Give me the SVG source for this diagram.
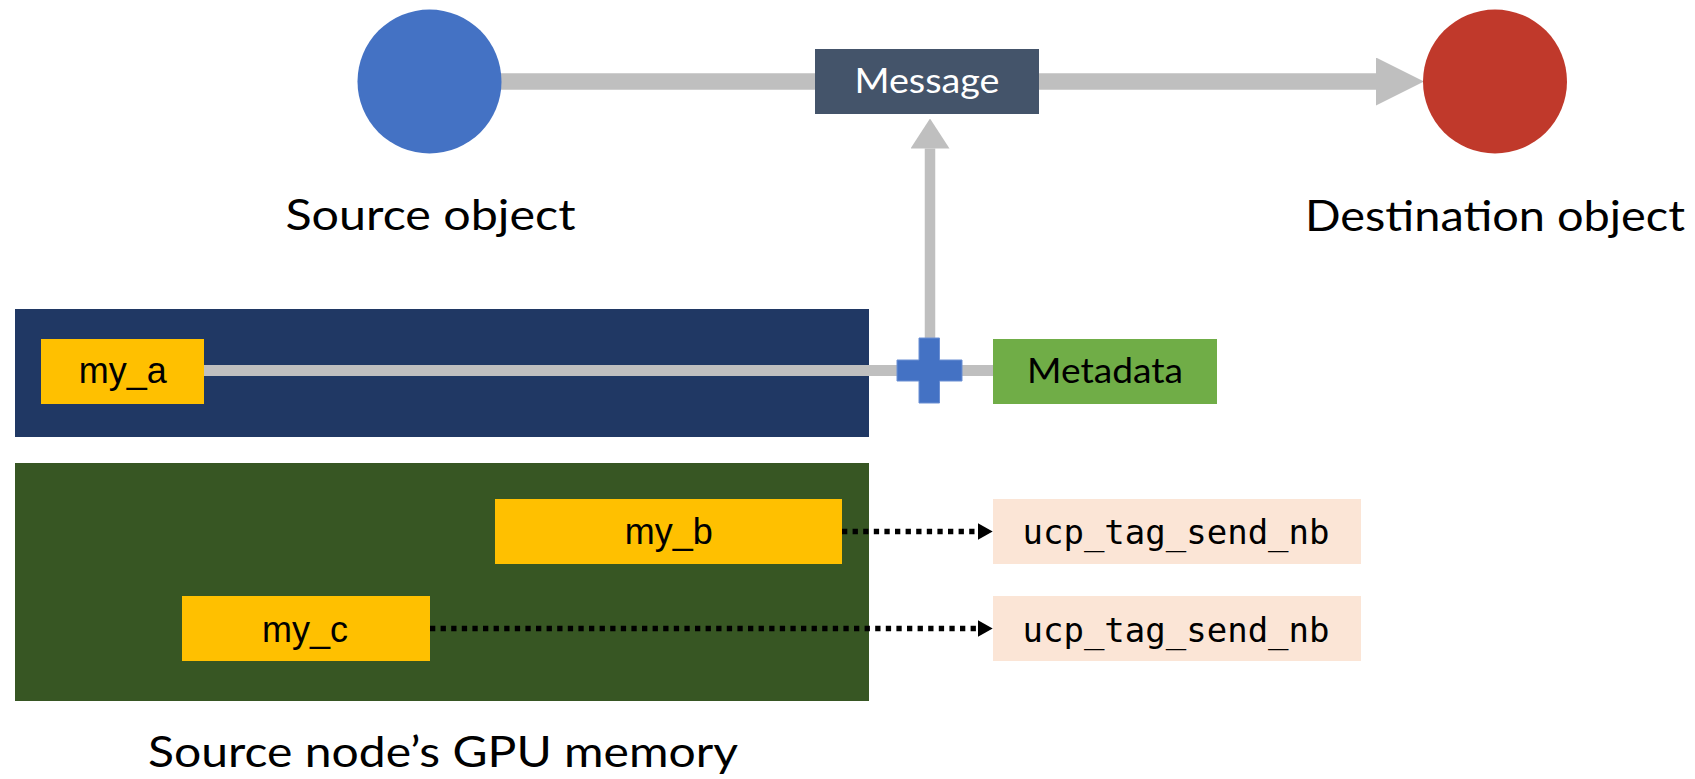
<svg xmlns="http://www.w3.org/2000/svg" width="1695" height="779" viewBox="0 0 1695 779">
  <style>
    .label { font-family: Lato, "Open Sans", "Liberation Sans", sans-serif; font-size: 43px; fill: #000; text-anchor: middle; }
    .boxtext { font-family: Lato, "Open Sans", "Liberation Sans", sans-serif; font-size: 35px; text-anchor: middle; }
    .var { font-family: "Liberation Sans", Arial, sans-serif; font-size: 36px; fill: #000; text-anchor: middle; }
    .mono { font-family: "DejaVu Sans Mono", "Liberation Mono", monospace; font-size: 34px; fill: #000; text-anchor: middle; }
    .var-box { fill: #FFC000; }
    .call-box { fill: #FBE5D6; }
    .flow { fill: none; stroke: #BFBFBF; }
    .dotted { fill: none; stroke: #000; stroke-width: 5.3; stroke-dasharray: 5.3 5.3; }
  </style>
  <defs>
    <marker id="head-gray-lg" markerUnits="userSpaceOnUse" viewBox="0 0 48 48" refX="0" refY="24" markerWidth="48" markerHeight="48" orient="auto">
      <path d="M0,0 L48,24 L0,48 z" fill="#BFBFBF"/>
    </marker>
    <marker id="head-gray-sm" markerUnits="userSpaceOnUse" viewBox="0 0 30 39" refX="0" refY="19.5" markerWidth="30" markerHeight="39" orient="auto">
      <path d="M0,0 L30,19.5 L0,39 z" fill="#BFBFBF"/>
    </marker>
    <marker id="head-black" markerUnits="userSpaceOnUse" viewBox="0 0 15 17" refX="0" refY="8.5" markerWidth="15" markerHeight="17" orient="auto">
      <path d="M0,0 L15,8.5 L0,17 z" fill="#000"/>
    </marker>
  </defs>

  <!-- memory regions -->
  <g id="region-host">
    <rect x="15" y="309" width="854" height="128" fill="#203864"/>
  </g>
  <g id="region-gpu">
    <rect x="15" y="463" width="854" height="238" fill="#375623"/>
    <text class="label" x="443" y="767" textLength="590" lengthAdjust="spacingAndGlyphs">Source node’s GPU memory</text>
  </g>

  <!-- connectors -->
  <g id="connectors">
    <path class="flow" stroke-width="16.7" d="M500,81.5 H815"/>
    <path class="flow" stroke-width="16.7" d="M1039,81.5 H1376" marker-end="url(#head-gray-lg)"/>
    <path class="flow" stroke-width="11" d="M204,370.5 H993"/>
    <path class="flow" stroke-width="10.5" d="M930,345 V148.5" marker-end="url(#head-gray-sm)"/>
    <path class="dotted" d="M842,531.5 H977.7" marker-end="url(#head-black)"/>
    <path class="dotted" d="M430,628.5 H977.7" marker-end="url(#head-black)"/>
  </g>

  <!-- endpoints -->
  <g id="source-object">
    <circle cx="429.5" cy="81.5" r="72" fill="#4472C4"/>
    <text class="label" x="430.5" y="229.5" textLength="290" lengthAdjust="spacingAndGlyphs">Source object</text>
  </g>
  <g id="destination-object">
    <circle cx="1495" cy="81.5" r="72" fill="#C0392B"/>
    <text class="label" x="1495" y="231" textLength="380" lengthAdjust="spacingAndGlyphs">Destination object</text>
  </g>

  <g id="message">
    <rect x="815" y="49" width="224" height="65" fill="#44546A"/>
    <text class="boxtext" x="927" y="93.3" fill="#FFFFFF" textLength="145" lengthAdjust="spacingAndGlyphs">Message</text>
  </g>

  <g id="combine">
    <path d="M919,338 H939.5 V360 H962 V381 H939.5 V403 H919 V381 H897 V360 H919 z" fill="#4472C4" stroke="#6B8FD3" stroke-width="1"/>
  </g>

  <g id="metadata">
    <rect x="993" y="339" width="224" height="65" fill="#70AD47"/>
    <text class="boxtext" x="1105" y="383" fill="#000" font-size="36" textLength="156" lengthAdjust="spacingAndGlyphs">Metadata</text>
  </g>

  <!-- variables -->
  <g id="my-a">
    <rect class="var-box" x="41" y="339" width="163" height="65"/>
    <text class="var" x="122.8" y="383.3">my_a</text>
  </g>
  <g id="my-b">
    <rect class="var-box" x="495" y="499" width="347" height="65"/>
    <text class="var" x="668.8" y="544.3">my_b</text>
  </g>
  <g id="my-c">
    <rect class="var-box" x="182" y="596" width="248" height="65"/>
    <text class="var" x="305" y="641.7">my_c</text>
  </g>

  <!-- send calls -->
  <g id="send-b">
    <rect class="call-box" x="993" y="499" width="368" height="65"/>
    <text class="mono" x="1176" y="544">ucp_tag_send_nb</text>
  </g>
  <g id="send-c">
    <rect class="call-box" x="993" y="596" width="368" height="65"/>
    <text class="mono" x="1176" y="641.5">ucp_tag_send_nb</text>
  </g>
</svg>
